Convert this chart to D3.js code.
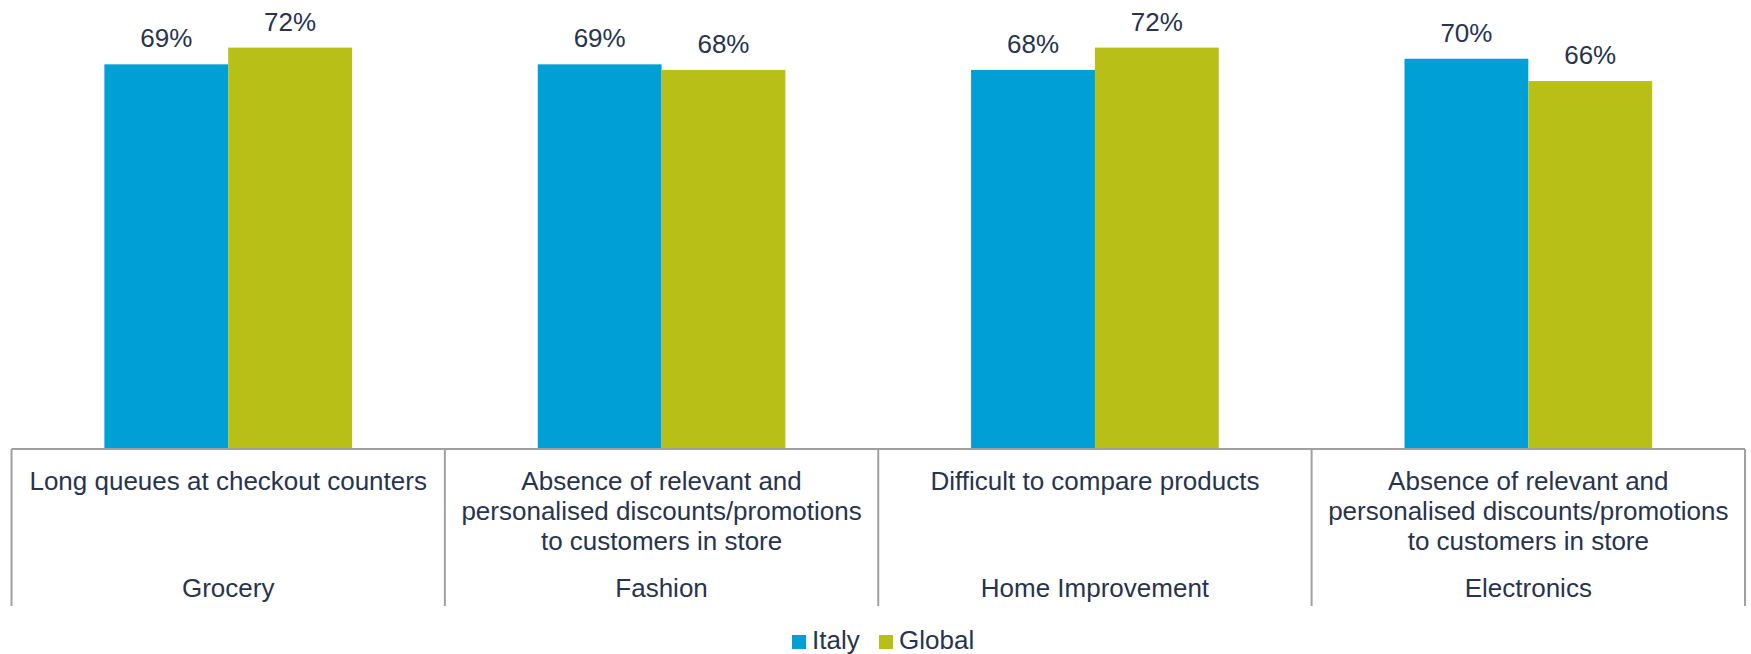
<!DOCTYPE html>
<html>
<head>
<meta charset="utf-8">
<script src="https://cdn.jsdelivr.net/npm/d3@7"></script>
<style>
  html, body { margin: 0; padding: 0; background: #ffffff; }
  svg { display: block; font-family: "Liberation Sans", Arial, sans-serif; }
</style>
</head>
<body>
<svg id="chart" width="1751" height="654"></svg>
<script>
// Sectors along the outer axis level, with the pain point asked in each
const sectors = ["Grocery", "Fashion", "Home Improvement", "Electronics"];
const painPoints = [
  ["Long queues at checkout counters"],
  ["Absence of relevant and", "personalised discounts/promotions", "to customers in store"],
  ["Difficult to compare products"],
  ["Absence of relevant and", "personalised discounts/promotions", "to customers in store"]
];
const seriesNames = ["Italy", "Global"];
const italyValues = [69, 69, 68, 70];
const globalValues = [72, 68, 72, 66];
const seriesColors = ["#00a0d6", "#b8bf17"];

const textColor = "#28344d";
const lineColor = "#a0a0a0";

const svg = d3.select("#chart");

const plot = { left: 11.5, right: 1745, top: 3, base: 449, axisBottom: 606 };

const x0 = d3.scaleBand().domain(sectors).range([plot.left, plot.right]).paddingInner(0).paddingOuter(0);
const x1 = d3.scaleBand().domain(seriesNames).range([0, x0.bandwidth()]).paddingInner(0).paddingOuter(0.75);
const y = d3.scaleLinear().domain([0, 80]).range([plot.base, plot.top]);

const rows = sectors.map((s, i) => ({
  sector: s,
  values: [
    { name: "Italy", value: italyValues[i] },
    { name: "Global", value: globalValues[i] }
  ]
}));
const color = d3.scaleOrdinal().domain(seriesNames).range(seriesColors);

// Bars
const groups = svg.append("g").selectAll("g")
  .data(rows).join("g")
  .attr("transform", d => `translate(${x0(d.sector)},0)`);

groups.selectAll("rect")
  .data(d => d.values).join("rect")
  .attr("x", d => x1(d.name))
  .attr("y", d => y(d.value))
  .attr("width", x1.bandwidth())
  .attr("height", d => y(0) - y(d.value))
  .attr("fill", d => color(d.name));

// Value labels
groups.selectAll("text.value")
  .data(d => d.values).join("text")
  .attr("class", "value")
  .attr("x", d => x1(d.name) + x1.bandwidth() / 2)
  .attr("y", d => y(d.value) - 17)
  .attr("text-anchor", "middle")
  .attr("font-size", 26)
  .attr("fill", textColor)
  .text(d => d.value + "%");

// Category axis: baseline plus group separators
const axis = svg.append("g");
axis.append("line")
  .attr("x1", plot.left).attr("x2", plot.right)
  .attr("y1", plot.base).attr("y2", plot.base)
  .attr("stroke", lineColor).attr("stroke-width", 2);

const edges = sectors.map(s => x0(s)).concat([x0(sectors[sectors.length - 1]) + x0.bandwidth()]);
axis.selectAll("line.sep")
  .data(edges).join("line")
  .attr("class", "sep")
  .attr("x1", d => d).attr("x2", d => d)
  .attr("y1", plot.base).attr("y2", plot.axisBottom)
  .attr("stroke", lineColor).attr("stroke-width", 2);

// Inner level: pain point labels
const inner = axis.selectAll("text.inner")
  .data(sectors).join("text")
  .attr("class", "inner")
  .attr("text-anchor", "middle")
  .attr("font-size", 26)
  .attr("fill", textColor);
inner.each(function (s, i) {
  const t = d3.select(this);
  painPoints[i].forEach((line, k) => {
    t.append("tspan")
      .attr("x", x0(s) + x0.bandwidth() / 2)
      .attr("y", 490 + k * 30)
      .text(line);
  });
});

// Outer level: sector names
axis.selectAll("text.outer")
  .data(sectors).join("text")
  .attr("class", "outer")
  .attr("x", d => x0(d) + x0.bandwidth() / 2)
  .attr("y", 597)
  .attr("text-anchor", "middle")
  .attr("font-size", 26)
  .attr("fill", textColor)
  .text(d => d);

// Legend
const legend = svg.append("g");
const legendItems = [
  { name: "Italy", x: 792 },
  { name: "Global", x: 879 }
];
legendItems.forEach(it => {
  legend.append("rect")
    .attr("x", it.x).attr("y", 635)
    .attr("width", 14).attr("height", 14)
    .attr("fill", color(it.name));
  legend.append("text")
    .attr("x", it.x + 20).attr("y", 649)
    .attr("font-size", 26)
    .attr("fill", textColor)
    .text(it.name);
});
</script>
</body>
</html>
